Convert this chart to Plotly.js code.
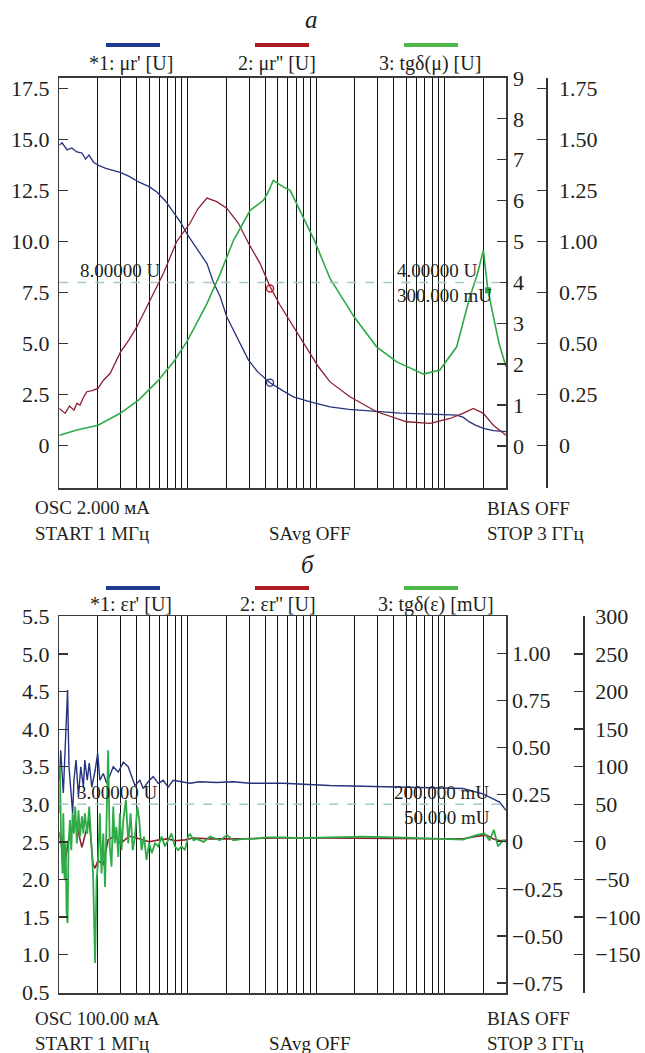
<!DOCTYPE html>
<html>
<head>
<meta charset="utf-8">
<script src="https://cdn.plot.ly/plotly-3.0.1.min.js"></script>
<style>
html,body{margin:0;padding:0;background:#fff;}
#chart{width:645px;height:1053px;}
</style>
</head>
<body>
<div id="chart"></div>
<script>
// ---------- data: panel а (μ) ----------
const gridFreqs = [1,2,3,4,5,6,7,8,9,10,20,30,40,50,60,70,80,90,100,200,300,400,500,600,700,800,900,1000,2000,3000];

const freqMuRe = [1,1.05,1.15,1.25,1.37,1.5,1.6,1.7,1.85,2,2.3,2.98,3.5,4.14,5,5.75,6.7,7.74,8.8,10,12,14.1,15.8,17.9,20.1,24,29.7,35,43.7,54,66.3,90,128,180,295,450,769,1000,1240,1400,1545,1750,2000,2400,3000];
const muRe     = [14.73,14.85,14.5,14.6,14.4,14.35,14.05,14.25,13.9,13.75,13.6,13.4,13.2,12.93,12.7,12.44,12.0,11.46,10.95,10.32,9.6,8.93,8.03,7.3,6.32,5.34,4.2,3.62,3.09,2.73,2.4,2.15,1.91,1.78,1.67,1.6,1.55,1.53,1.5,1.39,1.18,1.0,0.85,0.74,0.69];

const freqMuIm = [1,1.05,1.11,1.2,1.3,1.37,1.45,1.55,1.64,1.8,2,2.2,2.49,3,3.5,4.02,5.1,6.47,8.2,10.4,12,14.1,16.8,20.1,24.8,29.7,36.5,43.7,52.2,66.3,84.1,104,128,183,295,505,769,1100,1400,1670,2000,2400,3000];
const muIm     = [0.915,0.85,0.795,0.975,0.875,1.04,1.0,1.2,1.325,1.35,1.405,1.6,1.775,2.3,2.6,2.915,3.57,4.22,5.0,5.445,5.8,6.06,5.975,5.815,5.445,4.955,4.465,3.895,3.445,2.915,2.385,1.935,1.565,1.2,0.835,0.59,0.55,0.67,0.8,0.915,0.795,0.5,0.26];

const freqTgMu = [1,1.37,2,2.98,4.14,5.75,7.74,10,14.1,17.9,22.7,30.6,38.8,42,46.3,55,62.7,74.8,85,97.9,128,197,295,424,685,917,1240,1545,1800,2000,2170,2650,3000];
const tgMu     = [0.052,0.077,0.101,0.159,0.224,0.313,0.411,0.518,0.697,0.844,1.007,1.154,1.203,1.24,1.301,1.27,1.252,1.154,1.08,0.999,0.82,0.632,0.485,0.411,0.351,0.371,0.485,0.714,0.844,0.958,0.762,0.501,0.387];

const markerFreqA = [43.7];
const markerMuRe = [3.09];
const markerMuIm = [3.85];
const markerTgFreq = [2170];
const markerTg = [0.762];

// ---------- data: panel б (ε) ----------
const freqEpsRe = [1,1.025,1.075,1.12,1.16,1.19,1.23,1.27,1.30,1.35,1.41,1.47,1.54,1.58,1.65,1.71,1.79,1.90,1.99,2.07,2.20,2.34,2.63,2.88,3.15,3.44,3.66,3.88,4.24,4.50,4.92,5.38,5.89,6.44,7.04,7.70,8.94,10.4,12.4,16.7,22.6,30.4,55.2,127,420,1387,1983,2371,2673,3000];
const epsRe     = [3.32,3.72,3.15,3.99,4.52,3.5,3.14,2.88,3.32,3.59,3.1,3.5,3.23,3.59,3.32,3.55,3.23,3.45,3.68,3.32,3.41,3.28,3.5,3.43,3.56,3.5,3.37,3.25,3.32,3.21,3.3,3.37,3.28,3.32,3.23,3.32,3.3,3.28,3.3,3.29,3.3,3.28,3.28,3.25,3.23,3.21,3.14,3.08,3.03,2.92];

const freqEpsIm = [1,1.1,1.2,1.35,1.5,1.71,1.83,1.9,2.0,2.2,2.4,2.7,3.0,3.5,4.0,5.0,6.0,7.0,8.0,9.5,11,15,25,50,100,200,400,800,1400,1800,2100,2400,2700,3000];
const epsIm     = [0.05,-0.12,0.04,0.1,-0.03,0.12,-0.12,-0.14,-0.1,-0.12,0.01,0.03,-0.01,0.03,0.02,0.0,0.01,0.015,0.005,0.01,0.02,0.015,0.015,0.02,0.02,0.02,0.018,0.016,0.016,0.03,0.035,0.015,0.005,0.008];

const freqTgEps = [1,1.01,1.03,1.06,1.075,1.10,1.12,1.14,1.16,1.18,1.21,1.24,1.27,1.30,1.33,1.37,1.41,1.45,1.50,1.54,1.58,1.65,1.71,1.79,1.83,1.90,1.95,2.0,2.07,2.13,2.20,2.27,2.34,2.40,2.47,2.55,2.63,2.70,2.78,2.88,2.96,3.05,3.15,3.30,3.44,3.59,3.73,3.88,4.05,4.19,4.37,4.56,4.78,5.0,5.25,5.55,5.89,6.26,6.64,7.04,7.47,7.93,8.41,8.94,9.49,10.1,10.4,11.1,11.7,13.3,14.9,17.8,20.2,22.6,27.1,32.3,40.7,55,74,127,230,420,770,1387,1760,2042,2234,2415,2596,2700,2850,3000];
const tgEps     = [38,100,16,-42,38,-51,-2,-95,-108,-6,29,-11,38,11,47,-2,42,7,34,11,38,11,47,-20,-42,-161,-51,-28,38,-42,11,-60,38,122,-6,-33,47,-2,20,-20,38,-11,29,56,-2,38,-11,7,47,29,-11,7,-24,-2,-15,-2,-6,7,-6,2,11,-6,-11,-6,-11,7,11,2,4,0,7,2,9,2,4,4,6,6,5,6,7,6,4,3,9,11,2,16,-6,-2,2,0];

const refA = [8];
const refB = [3];

// ---------- layout helpers ----------
const W = 645, H = 1053;
const px = x => x / W;
const py = y => 1 - y / H;
const xd = [px(59.3), px(506)];
const domA = [py(488), py(77.5)];
const domB = [py(993.3), py(616)];

const serif = 'Liberation Serif, Times New Roman, serif';
const txtCol = '#231f20';
const tickFont = {family: serif, size: 22, color: txtCol};
const blue = '#26337d', red = '#8c1f2f', green = '#2eaa46';

const traces = [
  {x: freqMuRe, y: muRe, xaxis: 'x', yaxis: 'y', mode: 'lines', line: {color: blue, width: 1.3}},
  {x: freqMuIm, y: muIm, xaxis: 'x', yaxis: 'y2', mode: 'lines', line: {color: red, width: 1.3}},
  {x: freqTgMu, y: tgMu, xaxis: 'x', yaxis: 'y3', mode: 'lines', line: {color: green, width: 1.6}},
  {x: markerFreqA, y: markerMuRe, xaxis: 'x', yaxis: 'y', mode: 'markers', marker: {symbol: 'circle-open', size: 7, color: blue, line: {width: 1.3}}},
  {x: markerFreqA, y: markerMuIm, xaxis: 'x', yaxis: 'y2', mode: 'markers', marker: {symbol: 'circle-open', size: 7, color: '#c0202a', line: {width: 1.5}}},
  {x: markerTgFreq, y: markerTg, xaxis: 'x', yaxis: 'y3', mode: 'markers', marker: {symbol: 'square', size: 6, color: green}},

  {x: freqEpsRe, y: epsRe, xaxis: 'x2', yaxis: 'y4', mode: 'lines', line: {color: blue, width: 1.4}},
  {x: freqEpsIm, y: epsIm, xaxis: 'x2', yaxis: 'y5', mode: 'lines', line: {color: red, width: 1.6}},
  {x: freqTgEps, y: tgEps, xaxis: 'x2', yaxis: 'y6', mode: 'lines', line: {color: green, width: 1.8}}
];

function xAxis(anchor) {
  return {
    type: 'log', domain: xd, anchor: anchor, range: [0, Math.log10(3000)],
    tickvals: gridFreqs, ticks: '', showticklabels: false,
    showgrid: true, gridcolor: '#111', gridwidth: 1,
    showline: true, mirror: true, linecolor: '#3a3a3a', linewidth: 1.5, zeroline: false
  };
}
function yCommon(extra) {
  return Object.assign({
    ticks: 'inside', ticklen: 9, tickwidth: 1.3, tickcolor: '#333',
    showgrid: false, zeroline: false, tickfont: tickFont, fixedrange: true
  }, extra);
}

const layout = {
  width: W, height: H,
  margin: {l: 0, r: 0, t: 0, b: 0},
  paper_bgcolor: '#fff', plot_bgcolor: '#fff',
  showlegend: false,
  xaxis: xAxis('y'),
  xaxis2: xAxis('y4'),
  yaxis: yCommon({domain: domA, anchor: 'x', range: [-2.07, 18.05],
    tickvals: [0, 2.5, 5, 7.5, 10, 12.5, 15, 17.5],
    ticktext: ['0', '2.5', '5.0', '7.5', '10.0', '12.5', '15.0', '17.5'],
    showline: true, mirror: true, linecolor: '#3a3a3a', linewidth: 1.5, ticklabelstandoff: 4}),
  yaxis2: yCommon({overlaying: 'y', side: 'right', anchor: 'x', range: [-1.03, 9.01],
    tickvals: [0, 1, 2, 3, 4, 5, 6, 7, 8, 9], ticklabelstandoff: 6}),
  yaxis3: yCommon({overlaying: 'y', side: 'right', anchor: 'free', position: px(546), range: [-0.207, 1.805],
    tickvals: [0, 0.25, 0.5, 0.75, 1, 1.25, 1.5, 1.75],
    ticktext: ['0', '0.25', '0.50', '0.75', '1.00', '1.25', '1.50', '1.75'],
    showline: true, linecolor: '#333', linewidth: 1.5, ticklabelstandoff: 7}),
  yaxis4: yCommon({domain: domB, anchor: 'x2', range: [0.487, 5.505],
    tickvals: [0.5, 1, 1.5, 2, 2.5, 3, 3.5, 4, 4.5, 5, 5.5],
    ticktext: ['0.5', '1.0', '1.5', '2.0', '2.5', '3.0', '3.5', '4.0', '4.5', '5.0', '5.5'],
    showline: true, mirror: true, linecolor: '#3a3a3a', linewidth: 1.5, ticklabelstandoff: 4}),
  yaxis5: yCommon({overlaying: 'y4', side: 'right', anchor: 'x2', range: [-0.805, 1.199],
    tickvals: [-0.75, -0.5, -0.25, 0, 0.25, 0.5, 0.75, 1],
    ticktext: ['\u22120.75', '\u22120.50', '\u22120.25', '0', '0.25', '0.50', '0.75', '1.00'], ticklabelstandoff: 5}),
  yaxis6: yCommon({overlaying: 'y4', side: 'right', anchor: 'free', position: px(583.3), range: [-201.5, 300.5],
    tickvals: [-150, -100, -50, 0, 50, 100, 150, 200, 250, 300],
    ticktext: ['\u2212150', '\u2212100', '\u221250', '0', '50', '100', '150', '200', '250', '300'],
    showline: true, linecolor: '#333', linewidth: 1.5, ticklabelstandoff: 6}),
  shapes: [
    {type: 'line', xref: 'paper', yref: 'y', x0: xd[0], x1: xd[1], y0: refA[0], y1: refA[0], line: {color: '#a5c9c2', width: 1.5, dash: 'dash'}},
    {type: 'line', xref: 'paper', yref: 'y4', x0: xd[0], x1: xd[1], y0: refB[0], y1: refB[0], line: {color: '#a5c9c2', width: 1.5, dash: 'dash'}},
    // legend bars
    {type: 'line', xref: 'paper', yref: 'paper', x0: px(106), x1: px(160), y0: py(45), y1: py(45), line: {color: '#213a8f', width: 4}},
    {type: 'line', xref: 'paper', yref: 'paper', x0: px(255), x1: px(309), y0: py(45), y1: py(45), line: {color: '#b01c24', width: 4}},
    {type: 'line', xref: 'paper', yref: 'paper', x0: px(404), x1: px(458), y0: py(45), y1: py(45), line: {color: '#4db848', width: 4}},
    {type: 'line', xref: 'paper', yref: 'paper', x0: px(106), x1: px(160), y0: py(588), y1: py(588), line: {color: '#213a8f', width: 4}},
    {type: 'line', xref: 'paper', yref: 'paper', x0: px(255), x1: px(309), y0: py(588), y1: py(588), line: {color: '#b01c24', width: 4}},
    {type: 'line', xref: 'paper', yref: 'paper', x0: px(404), x1: px(458), y0: py(588), y1: py(588), line: {color: '#4db848', width: 4}}
  ],
  annotations: []
};

function ann(text, x, y, anchor, size, italic) {
  layout.annotations.push({
    text: text, xref: 'paper', yref: 'paper', x: px(x), y: py(y),
    xanchor: anchor, yanchor: 'middle', showarrow: false,
    font: {family: serif, size: size || 19, color: txtCol, style: italic ? 'italic' : 'normal'}
  });
}
// panel а
ann('а', 311, 20, 'center', 25, true);
ann("*1: μr' [U]", 131, 63, 'center', 20);
ann("2: μr'' [U]", 277, 63, 'center', 20);
ann('3: tgδ(μ) [U]', 430, 63, 'center', 20);
ann('8.00000 U', 78, 270, 'left');
ann('4.00000 U', 395, 270, 'left');
ann('300.000 mU', 395, 295, 'left');
ann('OSC 2.000 мА', 33, 508, 'left');
ann('START 1 МГц', 33, 533, 'left');
ann('SAvg OFF', 267, 533, 'left');
ann('BIAS OFF', 485, 509, 'left');
ann('STOP 3 ГГц', 485, 533, 'left');
// panel б
ann('б', 308, 564, 'center', 25, true);
ann("*1: εr' [U]", 131, 604, 'center', 20);
ann("2: εr'' [U]", 278, 604, 'center', 20);
ann('3: tgδ(ε) [mU]', 436, 604, 'center', 20);
ann('3.00000 U', 75, 792, 'left');
ann('200.000 mU', 392, 792, 'left');
ann('50.000 mU', 402, 817, 'left');
ann('OSC 100.00 мА', 33, 1018, 'left');
ann('START 1 МГц', 33, 1043, 'left');
ann('SAvg OFF', 267, 1043, 'left');
ann('BIAS OFF', 485, 1018, 'left');
ann('STOP 3 ГГц', 485, 1043, 'left');

Plotly.newPlot('chart', traces, layout, {displayModeBar: false, staticPlot: true});
</script>
</body>
</html>
